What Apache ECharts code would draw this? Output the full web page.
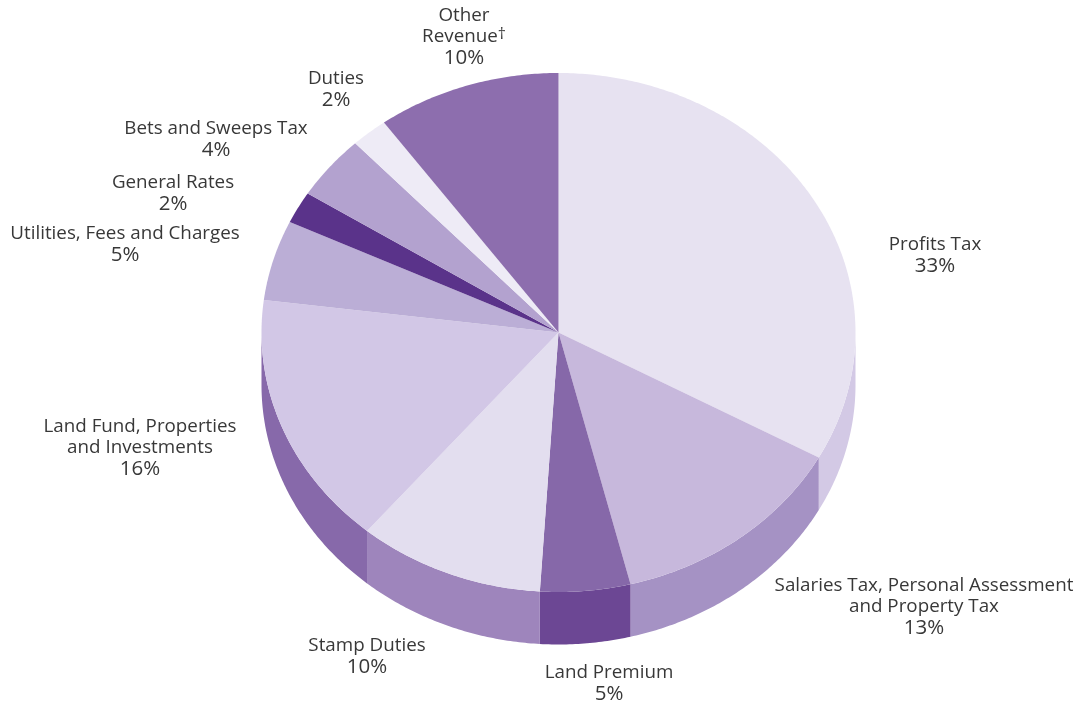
<!DOCTYPE html>
<html>
<head>
<meta charset="utf-8">
<style>html,body{margin:0;padding:0;background:#fff}#c{width:1083px;height:703px}</style>
<script src="https://cdn.jsdelivr.net/npm/echarts@6/dist/echarts.min.js"></script>
</head>
<body>
<div id="c"></div>
<script>
const categories = ['Profits Tax','Salaries Tax, Personal Assessment\nand Property Tax','Land Premium','Stamp Duties','Land Fund, Properties\nand Investments','Utilities, Fees and Charges','General Rates','Bets and Sweeps Tax','Duties','Other\nRevenue'];
const shares = [33,13.1,4.9,10.15,15.85,5,2,4,2,10];
const footnoted = [false,false,false,false,false,false,false,false,false,true];
const topColors = ['#e7e2f1','#c7b8dc','#8668a9','#e3deef','#d2c7e6','#bbaed6','#5a338a','#b3a2cf','#eeebf6','#8d6eae'];
const wallColors = ['#d3c9e5','#a592c4','#6c4794','#9e85bc','#8769aa','#8769aa','#8769aa','#8769aa','#8769aa','#8769aa'];
const labelCentres = [[935,255],[924,607],[609,683],[367,656],[140,448],[125,244],[173,193],[216,139],[336,89],[464,37]];

const CX = 558.5, CY = 332.5, RX = 297, RY = 259.5, DEPTH = 52.5;
const total = shares.reduce((a,b)=>a+b,0);
const startOf = i => shares.slice(0,i).reduce((a,b)=>a+b,0);
const pt = (t,dy) => [CX + RX*Math.sin(t), CY - RY*Math.cos(t) + (dy||0)];

function arc(a,b,dy){
  const n = Math.max(2,Math.ceil((b-a)/0.01)), out = [];
  for(let k=0;k<=n;k++) out.push(pt(a+(b-a)*k/n,dy));
  return out;
}
function renderItem(params, api){
  const i = params.dataIndex;
  const share = api.value(0);
  const a = startOf(i)/total*2*Math.PI, b = a + share/total*2*Math.PI;
  const children = [];
  const wa = Math.max(a,Math.PI/2), wb = Math.min(b,Math.PI*1.5);
  if(wb>wa){
    children.push({type:'polygon',silent:true,
      shape:{points:arc(wa,wb,0).concat(arc(wa,wb,DEPTH).reverse())},
      style:{fill:wallColors[i]}});
  }
  children.push({type:'polygon',silent:true,
    shape:{points:[[CX,CY]].concat(arc(a,b,0))},
    style:{fill:topColors[i]}});
  const name = categories[i].split('\n').map((l,k,arr)=>
    '{t|'+l+'}'+(footnoted[i]&&k===arr.length-1?'{s|†}':'')).join('\n');
  children.push({type:'text',silent:true,z2:10,
    x:labelCentres[i][0],y:labelCentres[i][1],
    style:{text:name+'\n{p|'+Math.round(share)+'%}',align:'center',verticalAlign:'middle',
      rich:{
        t:{fontFamily:'"Open Sans"',fontSize:18.8,lineHeight:21.5,fill:'#383838'},
        p:{fontFamily:'"Open Sans"',fontSize:20.5,lineHeight:21.5,fill:'#383838'},
        s:{fontFamily:'"Open Sans"',fontSize:16,lineHeight:21.5,verticalAlign:'top',fill:'#383838'}
      }}});
  return {type:'group',children};
}
const chart = echarts.init(document.getElementById('c'),null,{renderer:'canvas'});
chart.setOption({
  animation:false,
  backgroundColor:'#ffffff',
  tooltip:{show:false},
  series:[{type:'custom',coordinateSystem:'none',renderItem,
    data:shares.map((v,i)=>({name:categories[i],value:[v]}))}]
});
</script>
</body>
</html>
